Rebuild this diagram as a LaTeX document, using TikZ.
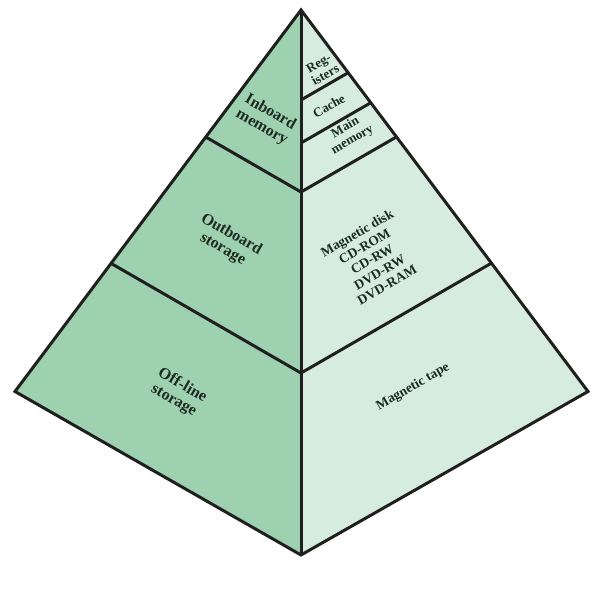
\documentclass[tikz,border=0pt]{standalone}
\usepackage{fontspec}
\setmainfont{Liberation Serif}
\definecolor{leftface}{HTML}{9DD1B0}
\definecolor{rightface}{HTML}{D6ECDE}
\definecolor{txt}{HTML}{1C2A22}
\begin{document}
\begin{tikzpicture}[x=1pt,y=-1pt,
  edge/.style={line width=3pt,draw=black!88,line join=miter},
  leftlab/.style={text=txt,align=center,rotate=-30,font=\fontsize{16}{17}\selectfont\bfseries,inner sep=0pt},
  rightlab/.style={text=txt,align=center,rotate=30,font=\fontsize{13.5}{15}\selectfont\bfseries,inner sep=0pt}]
\useasboundingbox (0,0) rectangle (605,593);
% key points
\coordinate (A) at (301,10);
\coordinate (L) at (15,391.5);
\coordinate (R) at (588,391.5);
\coordinate (B) at (301,555);
\coordinate (C1) at (301,100);
\coordinate (C2) at (301,143);
\coordinate (C3) at (301,192);
\coordinate (C4) at (301,373);
\coordinate (L3) at (205.9,137.1);
\coordinate (L4) at (111.3,263.5);
\coordinate (R1) at (348.0,72.8);
\coordinate (R2) at (370.5,102.9);
\coordinate (R3) at (396.1,137.1);
\coordinate (R4) at (490.8,263.5);
% faces
\fill[leftface] (A) -- (L) -- (B) -- cycle;
\fill[rightface] (A) -- (R) -- (B) -- cycle;
% divisions
\draw[edge] (L3) -- (C3) -- (R3);
\draw[edge] (L4) -- (C4) -- (R4);
\draw[edge] (C1) -- (R1);
\draw[edge] (C2) -- (R2);
\draw[edge] (A) -- (B);
\draw[edge] (A) -- (L) -- (B) -- (R) -- cycle;
% labels
\node[leftlab] (inb) at (266,120) {Inboard\\memory};
\node[leftlab] (outb) at (227,242) {Outboard\\storage};
\node[leftlab] (offl) at (178,393) {Off-line\\storage};
\node[rightlab,font=\fontsize{13}{13.5}\selectfont\bfseries] (reg) at (322,69) {Reg-\\isters};
\node[rightlab,font=\fontsize{13}{14}\selectfont\bfseries] (cache) at (329,106) {Cache};
\node[rightlab,font=\fontsize{13}{14}\selectfont\bfseries] (mainm) at (349,134) {Main\\memory};
\node[rightlab] (disk) at (372,259) {Magnetic disk\\CD-ROM\\CD-RW\\DVD-RW\\DVD-RAM};
\node[rightlab] (tape) at (413,387) {Magnetic tape};
\end{tikzpicture}
\end{document}
